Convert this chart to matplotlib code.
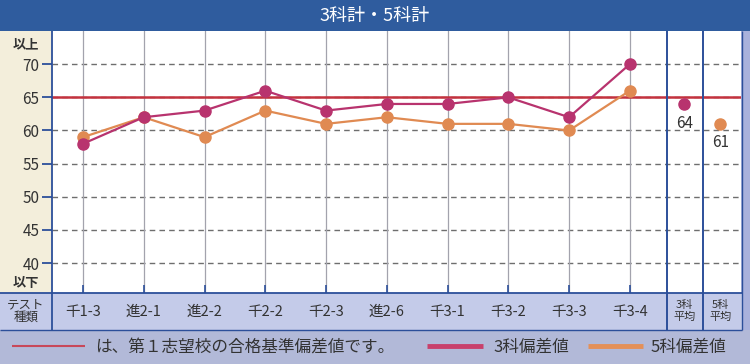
import matplotlib
matplotlib.use("Agg")
import matplotlib.pyplot as plt
from matplotlib.patches import Rectangle
from matplotlib.lines import Line2D

plt.rcParams['font.family'] = ['Noto Sans CJK JP', 'DejaVu Sans']

# ---- data ----
title = "3科計・5科計"
tests = ["千1-3", "進2-1", "進2-2", "千2-2", "千2-3", "進2-6", "千3-1", "千3-2", "千3-3", "千3-4"]
score3 = [58, 62, 63, 66, 63, 64, 64, 65, 62, 70]
score5 = [59, 62, 59, 63, 61, 62, 61, 61, 60, 66]
avg3 = 64
avg5 = 61
avg_labels = ["3科\n平均", "5科\n平均"]
target = 65
yticks = [40, 45, 50, 55, 60, 65, 70]
legend_note = "は、第１志望校の合格基準偏差値です。"
legend3 = "3科偏差値"
legend5 = "5科偏差値"

# ---- styling ----
W, H = 750, 364
C3 = "#b8336e"
C5 = "#e08a52"
CREF = "#c4323e"
BLUE = "#2c4f9a"
TXT = "#333333"

fig = plt.figure(figsize=(W / 100, H / 100), dpi=100)
fig.patch.set_facecolor("#aab3dc")

def fx(x):
    return x / W

def fy(y):
    return (H - y) / H

def rect(x0, y0, x1, y1, color, z=-5):
    fig.patches.append(Rectangle((fx(x0), fy(y1)), fx(x1) - fx(x0), fy(y0) - fy(y1),
                                 transform=fig.transFigure, facecolor=color,
                                 edgecolor="none", zorder=z))

def hline(y, x0, x1, color, lw, z=3):
    fig.lines.append(Line2D([fx(x0), fx(x1)], [fy(y), fy(y)], transform=fig.transFigure,
                            color=color, lw=lw, zorder=z, solid_capstyle="butt"))

def vline(x, y0, y1, color, lw, z=3):
    fig.lines.append(Line2D([fx(x), fx(x)], [fy(y0), fy(y1)], transform=fig.transFigure,
                            color=color, lw=lw, zorder=z, solid_capstyle="butt"))

# backgrounds
rect(0, 0, W, 31, "#2f5c9e")            # title band
rect(0, 31, 52, 293, "#f3eedb")          # left column
rect(0, 293, 742, 330, "#c4cbe9")        # x label row
rect(0, 330, W, H, "#b2b9d8")            # legend row
rect(742, 31, W, 330, "#a9b1dc")         # right strip

fig.text(fx(375), fy(16), title, color="white", fontsize=13, ha="center", va="center")

# main axes
L, R, T, B = 52, 741, 31, 293
ax = fig.add_axes([fx(L), fy(B), fx(R) - fx(L), fy(T) - fy(B)])
ax.set_zorder(1)
ax.set_facecolor("white")
xs = list(range(len(tests)))
x_avg3, x_avg5 = 9.9, 10.49
ax.set_xlim(-0.51, 10.83)
ax.set_ylim(35.5, 75.0)

for y in yticks:
    ax.axhline(y, color="#6e6e6e", lw=1.0, ls=(0, (4, 3)), zorder=1)
for x in xs:
    ax.axvline(x, color="#a3a3ad", lw=0.9, zorder=1)
ax.axhline(target, color=CREF, lw=1.8, zorder=2)

ax.plot(xs, score5, color=C5, lw=1.6, marker="o", ms=8, zorder=4)
ax.plot(xs, score3, color=C3, lw=1.6, marker="o", ms=8, zorder=5)
ax.plot([x_avg3], [avg3], color=C3, marker="o", ms=8, ls="none", zorder=5)
ax.plot([x_avg5], [avg5], color=C5, marker="o", ms=8, ls="none", zorder=5)
ax.text(x_avg3, avg3 - 1.6, str(avg3), ha="center", va="top", fontsize=11, color=TXT)
ax.text(x_avg5, avg5 - 1.6, str(avg5), ha="center", va="top", fontsize=11, color=TXT)

for s in ax.spines.values():
    s.set_visible(False)
ax.set_yticks(yticks)
ax.set_yticklabels([str(v) for v in yticks], fontsize=11, color=TXT)
ax.tick_params(axis="y", direction="out", length=7, width=1.3, color=BLUE, pad=2)
ax.set_xticks(xs)
ax.set_xticklabels([])
ax.tick_params(axis="x", direction="in", length=6, width=1.2, color=BLUE)

# frame lines
vline(52, 31, 330, BLUE, 1.3)
vline(667, 31, 330, BLUE, 1.4)
vline(703, 31, 330, BLUE, 1.4)
vline(741.5, 31, 330, BLUE, 1.0)
hline(293, 0, 742, BLUE, 1.3)
hline(330, 0, 742, BLUE, 1.0)

fig.text(fx(26), fy(44), "以上", ha="center", va="center", fontsize=9.5, color=TXT, fontweight="bold")
fig.text(fx(26), fy(283), "以下", ha="center", va="center", fontsize=9.5, color=TXT, fontweight="bold")
fig.text(fx(26), fy(311), "テスト\n種類", ha="center", va="center", fontsize=9,
         color=TXT, linespacing=1.0)

# x labels below axes (in data x)
for x, lab in zip(xs, tests):
    ax.annotate(lab, xy=(x, 0), xycoords=("data", "axes fraction"), xytext=(0, -19),
                textcoords="offset pixels", ha="center", va="center", fontsize=10.5, color=TXT,
                annotation_clip=False)
for x, lab in zip([x_avg3, x_avg5], avg_labels):
    ax.annotate(lab, xy=(x, 0), xycoords=("data", "axes fraction"), xytext=(0, -18),
                textcoords="offset pixels", ha="center", va="center", fontsize=8, color=TXT,
                linespacing=1.15, annotation_clip=False)

# legend row
hline(346, 12, 85, "#c8485a", 1.5)
fig.text(fx(95), fy(347), legend_note, ha="left", va="center", fontsize=12, color=TXT)
hline(346, 427, 483, "#c8406c", 3.5)
fig.text(fx(493), fy(347), legend3, ha="left", va="center", fontsize=12, color=TXT)
hline(346, 588, 643, "#e49058", 3.5)
fig.text(fx(651), fy(347), legend5, ha="left", va="center", fontsize=12, color=TXT)

fig.savefig("out.png", dpi=100, facecolor=fig.get_facecolor())
